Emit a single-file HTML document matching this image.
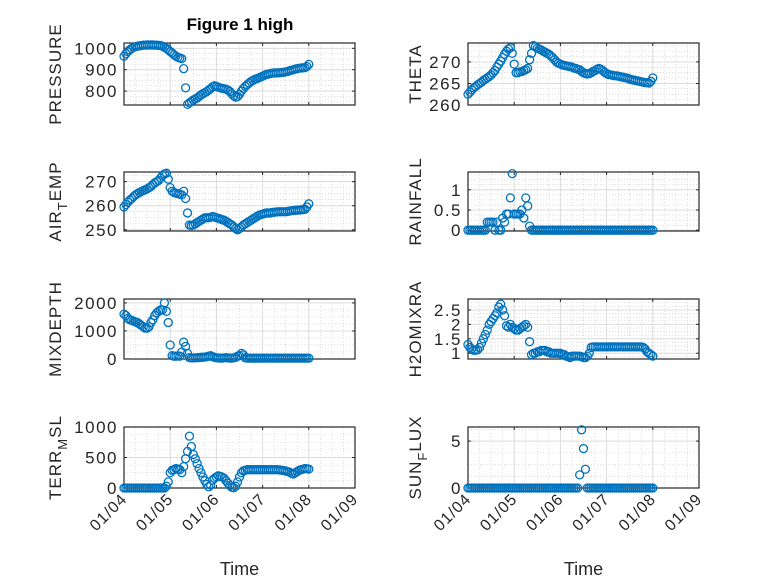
<!DOCTYPE html>
<html><head><meta charset="utf-8"><style>
html,body{margin:0;padding:0;background:#fff;}
svg{display:block;font-family:"Liberation Sans",sans-serif;}
</style></head><body>
<svg id="fig" width="778" height="583" viewBox="0 0 778 583"></svg>
<script>
// hourly samples (days since 01/04 = index/24)
const xTickLabels = ["01/04","01/05","01/06","01/07","01/08","01/09"];
const pressure = [963,975,985,993,1000,1005,1008,1010,1012,1013,1015,1015,
1016,1016,1016,1016,1015,1015,1014,1013,1010,1005,1000,993,
985,978,970,963,958,955,952,905,815,738,745,752,
758,763,768,775,782,788,793,798,805,812,820,825,
822,818,815,813,811,809,805,798,788,778,772,775,
785,800,812,822,830,838,845,850,855,858,862,866,
870,874,878,880,882,884,885,885,886,886,887,888,
890,892,895,898,900,903,905,907,908,909,910,915,925];
const theta = [262.5,263,263.5,264,264.3,264.7,265,265.3,265.7,266,266.3,266.6,
267,267.5,268,268.8,269.5,270.2,271,271.8,272.5,273,273.3,272,
269.5,267.5,267.5,267.7,267.8,268,268.2,268.5,270.5,272,273.8,273.5,
273.2,273,272.8,272.5,272.3,272,271.8,271.4,271,270.5,270,269.7,
269.5,269.3,269.2,269.1,269,268.9,268.8,268.6,268.5,268.3,268.2,267.8,
267.5,267.3,267.2,267.3,267.5,267.8,268,268.3,268.5,268.3,268,267.6,
267.3,267.1,267,266.9,266.8,266.8,266.7,266.6,266.5,266.4,266.3,266.2,
266,265.9,265.8,265.7,265.6,265.5,265.4,265.3,265.2,265.2,265.1,265.5,266.3];
const airTemp = [259.5,260.5,261.5,262.3,263,263.8,264.5,265,265.5,265.9,266.3,266.6,
267,267.5,268,268.8,269.5,270,270.5,271.5,272.5,273.2,273.5,271,
267.5,266,265.5,265.2,265,264.8,264.5,266,263,257,252,251.8,
252,252.5,253,253.5,254,254.5,255,255,255,255.2,255.5,255.3,
255,254.8,254.5,254.2,254,253.5,253,252.5,252,251.3,250.5,250,
250.5,251.2,252,252.5,253,253.5,254,254.5,255,255.5,256,256.3,
256.5,256.8,257,257,257,257.2,257.3,257.4,257.5,257.5,257.5,257.5,
257.5,257.6,257.8,257.9,258,258.1,258.2,258.2,258.3,258.4,258.5,259.5,260.8];
const rainfall = [0,0,0,0,0,0,0,0,0,0,0.2,0.2,
0.2,0.2,0,0.2,0,0,0.3,0.2,0.4,0.4,0.8,1.4,
0.4,0.4,0.4,0.4,0.5,0.3,0.8,0.6,0.1,0,0,0,
0,0,0,0,0,0,0,0,0,0,0,0,
0,0,0,0,0,0,0,0,0,0,0,0,
0,0,0,0,0,0,0,0,0,0,0,0,
0,0,0,0,0,0,0,0,0,0,0,0,
0,0,0,0,0,0,0,0,0,0,0,0,0];
const mixDepth = [1600,1550,1450,1400,1380,1350,1320,1300,1250,1200,1150,1100,
1100,1150,1300,1400,1550,1650,1700,1750,1750,2000,1700,1300,
500,120,100,100,110,100,250,600,450,200,50,40,
40,40,50,50,60,60,70,80,100,120,80,60,
40,40,30,30,40,50,40,30,30,40,60,100,
120,200,150,40,30,30,30,30,30,30,30,30,
30,30,30,30,30,30,30,30,30,30,30,30,
30,30,30,30,30,30,30,30,30,30,30,30,30];
const h2oMix = [1.3,1.2,1.15,1.1,1.1,1.12,1.2,1.35,1.5,1.65,1.8,2.0,
2.1,2.2,2.3,2.4,2.6,2.7,2.5,2.3,1.95,1.9,2.0,1.9,
1.85,1.8,1.8,1.85,1.9,1.95,2.0,1.9,1.4,0.95,1.0,1.0,
1.05,1.05,1.1,1.1,1.1,1.05,1.05,1.0,1.0,1.0,1.0,1.0,
1.0,0.95,0.95,0.9,0.88,0.85,0.9,0.9,0.9,0.9,0.9,0.88,
0.85,0.85,0.9,1.0,1.2,1.22,1.22,1.22,1.22,1.22,1.22,1.22,
1.22,1.22,1.22,1.22,1.22,1.22,1.22,1.22,1.22,1.22,1.22,1.22,
1.22,1.22,1.22,1.22,1.22,1.22,1.22,1.2,1.15,1.05,1.0,0.95,0.9];
const terrMsl = [0,0,0,0,0,0,0,0,0,0,0,0,
0,0,0,0,0,0,0,0,0,0,30,100,
250,290,300,320,310,300,250,350,480,600,850,680,
550,480,400,320,250,180,120,60,20,50,130,160,
180,200,190,180,160,120,80,40,10,5,30,100,
180,250,280,290,300,300,300,300,300,300,300,300,
300,300,300,300,300,300,300,300,300,295,290,285,
280,270,260,240,230,250,270,290,300,310,320,315,310];
const sunFlux = [0,0,0,0,0,0,0,0,0,0,0,0,
0,0,0,0,0,0,0,0,0,0,0,0,
0,0,0,0,0,0,0,0,0,0,0,0,
0,0,0,0,0,0,0,0,0,0,0,0,
0,0,0,0,0,0,0,0,0,0,1.4,6.2,
4.2,2.0,0,0,0,0,0,0,0,0,0,0,
0,0,0,0,0,0,0,0,0,0,0,0,
0,0,0,0,0,0,0,0,0,0,0,0,0];
const pressureTicks = [800,900,1000];
const thetaTicks = [260,265,270];
const airTempTicks = [250,260,270];
const rainTicks = [0,0.5,1];
const mixTicks = [0,1000,2000];
const h2oTicks = [1,1.5,2,2.5];
const terrTicks = [0,500,1000];
const sunTicks = [0,5];

const NS = "http://www.w3.org/2000/svg";
const svg = document.getElementById('fig');
function mk(tag, attrs, parent){ const e=document.createElementNS(NS,tag); for(const k in attrs) e.setAttribute(k,attrs[k]); (parent||svg).appendChild(e); return e; }
const colL=[124,355], colR=[468,699];
const rows=[[43,105],[172,231],[299,359],[427,488]];
const panels=[
 {name:'pressure',col:colL,row:0,vals:pressure,ticks:pressureTicks,ylim:[735,1025],label:['PRESSURE']},
 {name:'theta',col:colR,row:0,vals:theta,ticks:thetaTicks,ylim:[260,274.4],label:['THETA']},
 {name:'air-temp',col:colL,row:1,vals:airTemp,ticks:airTempTicks,ylim:[249.5,274],label:['AIR','T','EMP']},
 {name:'rainfall',col:colR,row:1,vals:rainfall,ticks:rainTicks,ylim:[-0.02,1.44],label:['RAINFALL']},
 {name:'mixdepth',col:colL,row:2,vals:mixDepth,ticks:mixTicks,ylim:[0,2140],label:['MIXDEPTH']},
 {name:'h2omixra',col:colR,row:2,vals:h2oMix,ticks:h2oTicks,ylim:[0.8,2.88],label:['H2OMIXRA']},
 {name:'terr-msl',col:colL,row:3,vals:terrMsl,ticks:terrTicks,ylim:[0,1000],label:['TERR','M','SL']},
 {name:'sun-flux',col:colR,row:3,vals:sunFlux,ticks:sunTicks,ylim:[0,6.5],label:['SUN','F','LUX']}
];
panels.forEach(p=>{
  const [x0,x1]=p.col, [y0,y1]=rows[p.row];
  const g=mk('g',{});
  
  
  const xs=t=>x0+(t-0)/(5-0)*(x1-x0);
  const ys=v=>y1-(v-p.ylim[0])/(p.ylim[1]-p.ylim[0])*(y1-y0);
  mk('rect',{x:x0,y:y0,width:x1-x0,height:y1-y0,fill:'#fff'},g);
  for(let d=0; d<5; d+=0.25){ if(Math.abs(d-Math.round(d))<1e-6) continue;
    mk('line',{x1:xs(d),x2:xs(d),y1:y0,y2:y1,stroke:'#c8c8c8','stroke-width':0.6,'stroke-dasharray':'1 2'},g); }
  const step=p.ticks.length>1?p.ticks[1]-p.ticks[0]:1;
  for(let v=p.ticks[0]-step; v<=p.ylim[1]; v+=step/4){
    if(v<p.ylim[0]) continue; const y=ys(v);
    mk('line',{x1:x0,x2:x1,y1:y,y2:y,stroke:'#c8c8c8','stroke-width':0.6,'stroke-dasharray':'1 2'},g); }
  for(let d=1; d<5; d++) mk('line',{x1:xs(d),x2:xs(d),y1:y0,y2:y1,stroke:'#dcdcdc','stroke-width':1},g);
  p.ticks.forEach(v=>{ const y=ys(v);
    mk('line',{x1:x0,x2:x1,y1:y,y2:y,stroke:'#dcdcdc','stroke-width':1},g);
    mk('line',{x1:x0,x2:x0+3,y1:y,y2:y,stroke:'#262626','stroke-width':1},g);
    mk('line',{x1:x1,x2:x1-3,y1:y,y2:y,stroke:'#262626','stroke-width':1},g);
    const t=mk('text',{x:x0-6,y:y+6,'text-anchor':'end','font-size':17,'letter-spacing':1.5,fill:'#262626'},g);
    t.textContent=String(v);
    
    
  });
  xTickLabels.forEach((lab,i)=>{ const x=xs(i);
    mk('line',{x1:x,x2:x,y1:y1,y2:y1-3,stroke:'#262626','stroke-width':1},g);
    mk('line',{x1:x,x2:x,y1:y0,y2:y0+3,stroke:'#262626','stroke-width':1},g);
    if(p.row===3){
      const t=mk('text',{x:x+4,y:y1+12,'text-anchor':'end','font-size':16,'letter-spacing':1,fill:'#262626',transform:`rotate(-45 ${x+4} ${y1+12})`},g);
      t.textContent=lab;
      
      
    }
  });
  mk('rect',{x:x0,y:y0,width:x1-x0,height:y1-y0,fill:'none',stroke:'#262626','stroke-width':1.2},g);
  p.vals.forEach((v,i)=>{
    const c=mk('circle',{cx:xs(i/24),cy:ys(v),r:4,fill:'none',stroke:'#0072BD','stroke-width':1.3},g);
    
    
  });
  const lx = p.col===colL ? x0-63 : x0-47, ly=(y0+y1)/2;
  const t=mk('text',{x:lx,y:ly,'text-anchor':'middle','font-size':17,'letter-spacing':1,fill:'#262626',transform:`rotate(-90 ${lx} ${ly})`},g);
  
  
  if(p.label.length===1){ t.textContent=p.label[0]; }
  else {
    const a=mk('tspan',{},t); a.textContent=p.label[0];
    const b=mk('tspan',{dy:6,'font-size':13},t); b.textContent=p.label[1];
    const c=mk('tspan',{dy:-6},t); c.textContent=p.label[2];
  }
  if(p.row===3){
    const tt=mk('text',{x:(x0+x1)/2,y:575,'text-anchor':'middle','font-size':18,fill:'#262626'},g);
    tt.textContent='Time';
    
    
  }
});
const title=mk('text',{x:240,y:30,'text-anchor':'middle','font-size':17,'font-weight':'bold',fill:'#000'});
title.textContent='Figure 1 high';


</script>
</body></html>
